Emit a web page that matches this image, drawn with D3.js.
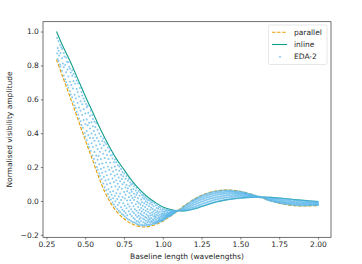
<!DOCTYPE html>
<html lang="en">
<head>
<meta charset="utf-8">
<title>Normalised visibility amplitude</title>
<script src="https://cdn.jsdelivr.net/npm/d3@7"></script>
<style>
body { margin: 0; background: #fff; }
text { font-family: "DejaVu Sans", sans-serif; fill: #262626; }
</style>
</head>
<body>
<div id="chart"></div>
<script>

// baseline lengths (wavelengths) of the two model curves
var curveX = [0.315, 0.35, 0.40, 0.45, 0.50, 0.55, 0.60, 0.65, 0.70, 0.75, 0.80, 0.85, 0.90, 0.95,
  1.00, 1.05, 1.10, 1.15, 1.20, 1.25, 1.30, 1.35, 1.40, 1.45, 1.50, 1.55, 1.60, 1.65, 1.70, 1.75,
  1.80, 1.85, 1.90, 1.95, 2.00];
var parallelY = [0.835, 0.745, 0.62, 0.49, 0.36, 0.235, 0.11, 0.01, -0.06, -0.105, -0.135, -0.15, -0.153, -0.14,
  -0.12, -0.09, -0.055, -0.02, 0.01, 0.033, 0.05, 0.06, 0.065, 0.063, 0.057, 0.045, 0.03, 0.015, 0.0, -0.013,
  -0.022, -0.028, -0.03, -0.029, -0.027];
var inlineY = [1.0, 0.925, 0.83, 0.725, 0.62, 0.52, 0.42, 0.33, 0.25, 0.185, 0.12, 0.068, 0.025, -0.008,
  -0.035, -0.05, -0.058, -0.057, -0.048, -0.033, -0.018, -0.005, 0.005, 0.012, 0.017, 0.021, 0.023, 0.023, 0.021, 0.017,
  0.013, 0.008, 0.004, 0.0, -0.004];

// EDA-2 samples, grouped by baseline: [x, [amplitudes]]
var edaCols = [
[0.319,[0.962,0.871]],[0.323,[0.903,0.838]],[0.328,[0.944,0.826,0.887]],[0.332,[0.858]],[0.337,[0.921,0.806]],
[0.341,[0.873,0.794]],[0.346,[0.907]],[0.351,[0.768,0.842,0.897]],[0.356,[0.812]],[0.362,[0.741,0.874,0.789]],
[0.366,[0.852]],[0.371,[0.718,0.803]],[0.377,[0.846,0.759,0.701]],[0.382,[0.822]],[0.386,[0.684,0.776]],
[0.391,[0.735,0.819,0.668]],[0.396,[0.792]],[0.402,[0.647,0.703,0.781]],[0.407,[0.758,0.629]],[0.411,[0.684]],
[0.416,[0.612,0.739,0.771]],[0.421,[0.663]],[0.425,[0.586,0.708,0.749]],[0.431,[0.627,0.563]],[0.436,[0.692,0.731]],
[0.44,[0.549,0.604]],[0.445,[0.661,0.527,0.711]],[0.451,[0.578,0.643]],[0.455,[0.509,0.694]],[0.46,[0.552,0.617,0.486]],
[0.466,[0.667]],[0.47,[0.471,0.589,0.532]],[0.476,[0.643,0.449]],[0.481,[0.507,0.571,0.623]],[0.485,[0.432]],
[0.49,[0.478,0.604,0.541]],[0.496,[0.401,0.589]],[0.501,[0.452,0.516,0.381]],[0.505,[0.572]],
[0.51,[0.413,0.358,0.481,0.553]],[0.516,[0.447,0.562]],[0.52,[0.334,0.389,0.521]],[0.525,[0.462,0.318]],
[0.531,[0.371,0.503,0.428]],[0.535,[0.297,0.534]],[0.541,[0.341,0.465,0.398]],[0.546,[0.269,0.507]],
[0.55,[0.318,0.441,0.372,0.484]],[0.556,[0.247,0.413]],[0.56,[0.289,0.356,0.468]],[0.565,[0.226,0.437,0.391]],
[0.571,[0.268,0.328,0.459]],[0.575,[0.201,0.372]],[0.58,[0.243,0.307,0.421,0.184]],[0.586,[0.352,0.266]],
[0.59,[0.162,0.217,0.398]],[0.595,[0.291,0.334,0.147]],[0.601,[0.189,0.247,0.381]],[0.605,[0.128,0.312]],
[0.61,[0.221,0.354,0.166]],[0.616,[0.103,0.279,0.369]],[0.62,[0.142,0.198,0.327]],[0.625,[0.081,0.253,0.346]],
[0.631,[0.174,0.121,0.298]],[0.635,[0.063,0.227,0.336]],[0.64,[0.152,0.098,0.271]],[0.646,[0.041,0.204,0.316]],
[0.65,[0.127,0.069,0.248]],[0.655,[0.182,0.022,0.291]],[0.661,[0.104,0.053,0.226,0.301]],[0.665,[0.008,0.157,0.269]],
[0.67,[0.082,0.196,0.037]],[0.676,[-0.009,0.133,0.251,0.274]],[0.68,[0.058,0.174,0.016]],[0.685,[-0.021,0.112,0.228]],
[0.691,[0.031,0.149,0.203,0.245]],[0.695,[-0.034,0.087,-0.002]],[0.70,[0.122,0.184,0.046,0.228]],
[0.706,[-0.047,0.012,0.158]],[0.71,[0.067,0.101,0.211,-0.024]],[0.716,[-0.058,0.139,0.027]],
[0.72,[0.083,0.179,-0.011,0.203]],[0.725,[-0.065,0.044,0.117]],[0.731,[0.154,-0.037,0.006,0.188]],
[0.736,[0.072,-0.076,0.129]],[0.74,[-0.052,0.024,0.171,0.098]],[0.745,[-0.083,-0.014,0.146]],
[0.751,[0.053,-0.061,0.109,0.162]],[0.755,[-0.092,-0.028,0.014]],[0.76,[0.079,0.131,-0.071,0.036]],
[0.766,[-0.043,-0.101,0.094,0.148]],[0.77,[0.002,0.057,-0.084]],[0.775,[-0.019,0.119,-0.108,0.073]],
[0.781,[-0.061,0.022,0.131]],[0.785,[-0.112,-0.033,0.088,0.047]],[0.79,[-0.078,0.004,0.109]],
[0.796,[-0.118,-0.049,0.066,0.031,0.097]],[0.80,[-0.089,-0.012,0.054]],[0.805,[-0.124,-0.063,0.018,0.102]],
[0.811,[-0.031,0.071,-0.101]],[0.815,[-0.127,0.006,-0.072,0.043,0.089]],[0.82,[-0.049,-0.108,0.024]],
[0.826,[-0.132,-0.019,0.061,-0.083]],[0.83,[-0.058,0.037,-0.118,0.076]],[0.835,[-0.094,-0.003,-0.137,0.048]],
[0.841,[-0.069,0.016,-0.121,-0.036]],[0.845,[-0.141,-0.087,0.059,-0.012]],[0.85,[-0.106,0.031,-0.054,-0.128]],
[0.856,[-0.074,-0.143,-0.021,0.049,-0.097]],[0.86,[-0.118,0.008,-0.041]],
[0.865,[-0.139,-0.082,0.037,-0.062,-0.007]],[0.871,[-0.104,-0.029,0.021,-0.146]],
[0.875,[-0.125,-0.051,-0.088,0.033]],[0.88,[-0.142,-0.013,-0.071,-0.109,0.011]],
[0.886,[-0.094,-0.036,-0.131,0.024]],[0.89,[-0.146,-0.058,-0.117,-0.002]],
[0.895,[-0.079,-0.137,-0.022,0.013,-0.101]],[0.901,[-0.126,-0.047,-0.144,-0.009]],
[0.905,[-0.088,-0.112,0.006,-0.064]],[0.91,[-0.139,-0.031,-0.097,-0.121]],
[0.916,[-0.073,-0.143,-0.016,-0.108,0.002]],[0.92,[-0.052,-0.129,-0.086]],
[0.925,[-0.139,-0.038,-0.101,-0.007,-0.118]],[0.931,[-0.069,-0.124,-0.083,-0.021]],
[0.935,[-0.136,-0.048,-0.109,-0.004]],[0.94,[-0.092,-0.128,-0.062,-0.031,-0.115]],
[0.946,[-0.077,-0.134,-0.014,-0.103]],[0.95,[-0.121,-0.053,-0.089,-0.132]],
[0.955,[-0.068,-0.109,-0.027,-0.127,-0.094]],[0.961,[-0.042,-0.118,-0.081,-0.131]],
[0.965,[-0.102,-0.059,-0.124,-0.022]],[0.97,[-0.087,-0.115,-0.045,-0.126,-0.071]],
[0.976,[-0.109,-0.034,-0.097,-0.121]],[0.98,[-0.063,-0.118,-0.082,-0.104]],
[0.985,[-0.113,-0.051,-0.094,-0.121,-0.038]],[0.991,[-0.072,-0.108,-0.117,-0.088]],
[0.995,[-0.099,-0.059,-0.114,-0.081]],[1.00,[-0.106,-0.074,-0.116,-0.047,-0.091]],
[1.006,[-0.098,-0.062,-0.111,-0.083]],[1.01,[-0.104,-0.072,-0.089,-0.049,-0.108]],
[1.015,[-0.096,-0.063,-0.103,-0.079]],[1.02,[-0.101,-0.084,-0.056,-0.092]],
[1.026,[-0.089,-0.098,-0.071,-0.052,-0.081]],[1.03,[-0.094,-0.063,-0.086,-0.075]],
[1.035,[-0.092,-0.079,-0.057,-0.085]],[1.04,[-0.088,-0.069,-0.091,-0.076,-0.053]],
[1.046,[-0.086,-0.071,-0.078,-0.058]],[1.05,[-0.083,-0.064,-0.087,-0.073]],
[1.055,[-0.079,-0.068,-0.083,-0.059]],[1.06,[-0.076,-0.066,-0.08,-0.058]],[1.066,[-0.072,-0.062,-0.076]],
[1.07,[-0.069,-0.061,-0.073,-0.057]],[1.075,[-0.067,-0.059,-0.07]],[1.08,[-0.064,-0.058,-0.066]],
[1.086,[-0.062,-0.059]],[1.09,[-0.06,-0.058]],[1.096,[-0.058]],[1.10,[-0.058,-0.056]],
[1.11,[-0.057,-0.052]],[1.12,[-0.057,-0.05,-0.044]],[1.13,[-0.057,-0.05,-0.043,-0.037]],
[1.14,[-0.055,-0.048,-0.04,-0.031]],[1.15,[-0.055,-0.047,-0.038,-0.029,-0.023]],
[1.16,[-0.054,-0.045,-0.035,-0.025,-0.016]],[1.17,[-0.052,-0.043,-0.033,-0.022,-0.012]],
[1.18,[-0.05,-0.04,-0.03,-0.018,-0.006]],[1.19,[-0.048,-0.037,-0.025,-0.013,-0.002,0.003]],
[1.20,[-0.046,-0.035,-0.022,-0.01,0.0,0.007]],[1.21,[-0.043,-0.032,-0.02,-0.006,0.005,0.012]],
[1.22,[-0.04,-0.028,-0.015,-0.003,0.009,0.017]],[1.23,[-0.037,-0.025,-0.012,0.001,0.013,0.022]],
[1.24,[-0.034,-0.022,-0.008,0.005,0.017,0.026]],[1.25,[-0.031,-0.019,-0.005,0.008,0.02,0.03]],
[1.26,[-0.028,-0.015,-0.002,0.012,0.024,0.033]],[1.27,[-0.025,-0.012,0.002,0.015,0.028,0.038]],
[1.28,[-0.022,-0.009,0.005,0.019,0.031,0.041]],[1.29,[-0.019,-0.006,0.008,0.022,0.034,0.044]],
[1.30,[-0.016,-0.003,0.011,0.025,0.037,0.047]],[1.31,[-0.013,0.0,0.014,0.027,0.039,0.049]],
[1.32,[-0.01,0.003,0.016,0.03,0.042,0.051]],[1.33,[-0.008,0.005,0.019,0.032,0.044,0.054]],
[1.34,[-0.005,0.008,0.021,0.034,0.046,0.055]],[1.35,[-0.003,0.01,0.023,0.036,0.048,0.057]],
[1.36,[-0.001,0.012,0.025,0.038,0.049,0.058]],[1.37,[0.001,0.014,0.027,0.039,0.05,0.059]],
[1.38,[0.003,0.016,0.028,0.04,0.051,0.06]],[1.39,[0.004,0.017,0.03,0.042,0.052,0.061]],
[1.40,[0.006,0.019,0.031,0.043,0.053,0.062]],[1.41,[0.008,0.02,0.032,0.044,0.054,0.062]],
[1.42,[0.009,0.021,0.033,0.044,0.054,0.062]],[1.43,[0.01,0.022,0.034,0.045,0.055,0.062]],
[1.44,[0.012,0.023,0.034,0.045,0.054,0.061]],[1.45,[0.013,0.024,0.035,0.045,0.054,0.06]],
[1.46,[0.014,0.025,0.035,0.045,0.053,0.059]],[1.47,[0.015,0.025,0.035,0.044,0.052,0.058]],
[1.48,[0.016,0.026,0.035,0.044,0.051,0.057]],[1.49,[0.016,0.026,0.035,0.043,0.05,0.056]],
[1.50,[0.017,0.026,0.035,0.043,0.05,0.055]],[1.51,[0.018,0.027,0.035,0.042,0.048,0.053]],
[1.52,[0.019,0.027,0.034,0.041,0.047,0.051]],[1.53,[0.02,0.027,0.034,0.04,0.045,0.049]],
[1.54,[0.02,0.027,0.033,0.039,0.044,0.047]],[1.55,[0.021,0.027,0.033,0.038,0.043]],
[1.56,[0.022,0.027,0.032,0.037,0.041]],[1.57,[0.022,0.027,0.031,0.035,0.039]],
[1.58,[0.022,0.026,0.03,0.034,0.036]],[1.59,[0.023,0.026,0.029,0.032]],[1.60,[0.023,0.026,0.028,0.03]],
[1.61,[0.023,0.025,0.027]],[1.62,[0.022,0.024,0.026]],[1.63,[0.021,0.023]],[1.64,[0.022,0.02]],
[1.65,[0.02,0.017]],[1.66,[0.02,0.016,0.013]],[1.67,[0.02,0.015,0.01,0.007]],[1.68,[0.02,0.014,0.008,0.004]],
[1.69,[0.019,0.012,0.006,0.002]],[1.70,[0.019,0.013,0.007,0.001,-0.001]],[1.71,[0.018,0.012,0.005,-0.001]],
[1.72,[0.017,0.01,0.003,-0.003,-0.004]],[1.73,[0.017,0.009,0.002,-0.005,-0.007]],
[1.74,[0.016,0.008,0.0,-0.006,-0.009]],[1.75,[0.015,0.007,-0.001,-0.007,-0.011]],
[1.76,[0.014,0.006,-0.002,-0.009,-0.013]],[1.77,[0.013,0.005,-0.003,-0.01,-0.015]],
[1.78,[0.013,0.004,-0.004,-0.011,-0.017]],[1.79,[0.012,0.003,-0.005,-0.012,-0.018]],
[1.80,[0.011,0.002,-0.006,-0.013,-0.02]],[1.81,[0.01,0.001,-0.007,-0.014,-0.021]],
[1.82,[0.009,0.0,-0.008,-0.015,-0.022]],[1.83,[0.008,-0.001,-0.009,-0.016,-0.023]],
[1.84,[0.007,-0.002,-0.01,-0.017,-0.024]],[1.85,[0.006,-0.003,-0.011,-0.018,-0.025]],
[1.86,[0.005,-0.004,-0.012,-0.019,-0.026]],[1.87,[0.004,-0.004,-0.012,-0.019,-0.026]],
[1.88,[0.004,-0.005,-0.013,-0.02,-0.027]],[1.89,[0.003,-0.005,-0.013,-0.02,-0.027]],
[1.90,[0.002,-0.006,-0.014,-0.021,-0.027]],[1.91,[0.001,-0.007,-0.014,-0.021,-0.027]],
[1.92,[0.001,-0.007,-0.014,-0.021,-0.027]],[1.93,[0.0,-0.008,-0.015,-0.021,-0.027]],
[1.94,[-0.001,-0.008,-0.015,-0.021,-0.026]],[1.95,[-0.002,-0.009,-0.015,-0.021,-0.026]],
[1.96,[-0.002,-0.009,-0.015,-0.021,-0.026]],[1.97,[-0.003,-0.009,-0.015,-0.021,-0.025]],
[1.98,[-0.003,-0.01,-0.016,-0.021,-0.025]],[1.99,[-0.004,-0.01,-0.016,-0.021,-0.025]],
[2.00,[-0.005,-0.011,-0.016,-0.021,-0.025]]
];

var xTicks = [0.25, 0.50, 0.75, 1.00, 1.25, 1.50, 1.75, 2.00];
var yTicks = [-0.2, 0.0, 0.2, 0.4, 0.6, 0.8, 1.0];
var seriesNames = ["parallel", "inline", "EDA-2"];
var colors = {parallel: "#E69F00", inline: "#129e8a", eda: "#56B4E9"};

var W = 362, H = 264;
var margin = {top: 21.7, right: 31, bottom: 26.7, left: 43};
var fs = 7.5;

var svg = d3.select("#chart").append("svg")
  .attr("width", W).attr("height", H);

var x = d3.scaleLinear().domain([0.228, 2.084]).range([margin.left, W - margin.right]);
var y = d3.scaleLinear().domain([-0.2145, 1.058]).range([H - margin.bottom, margin.top]);

var fmtX = d3.format(".2f");
var fmtY = function(d) { return d3.format(".1f")(d).replace("-", "\u2212"); };

function styleAxis(g) {
  g.select(".domain").remove();
  g.selectAll("line").attr("stroke", "#333").attr("stroke-width", 0.6);
  g.selectAll("text").attr("font-size", fs).attr("fill", "#262626").attr("font-family", "DejaVu Sans");
}

// axes
svg.append("g")
  .attr("transform", "translate(0," + (H - margin.bottom) + ")")
  .call(d3.axisBottom(x).tickValues(xTicks).tickFormat(fmtX).tickSize(2.2).tickPadding(2))
  .call(styleAxis);

svg.append("g")
  .attr("transform", "translate(" + margin.left + ",0)")
  .call(d3.axisLeft(y).tickValues(yTicks).tickFormat(fmtY).tickSize(2.2).tickPadding(2))
  .call(styleAxis);

// curves
var lineGen = d3.line()
  .x(function(d) { return x(d[0]); })
  .y(function(d) { return y(d[1]); })
  .curve(d3.curveCatmullRom);

svg.append("path")
  .datum(d3.zip(curveX, parallelY))
  .attr("d", lineGen)
  .attr("fill", "none")
  .attr("stroke", colors.parallel)
  .attr("stroke-width", 1.1)
  .attr("stroke-dasharray", "3.5,1.6");

svg.append("path")
  .datum(d3.zip(curveX, inlineY))
  .attr("d", lineGen)
  .attr("fill", "none")
  .attr("stroke", colors.inline)
  .attr("stroke-width", 1.1);

// scatter
var edaPts = [];
edaCols.forEach(function(c) { c[1].forEach(function(v) { edaPts.push([c[0], v]); }); });

svg.append("g").selectAll("circle")
  .data(edaPts)
  .enter().append("circle")
  .attr("cx", function(d) { return x(d[0]); })
  .attr("cy", function(d) { return y(d[1]); })
  .attr("r", 1.0)
  .attr("fill", colors.eda)
  .attr("opacity", 0.72);

// frame
svg.append("rect")
  .attr("x", margin.left).attr("y", margin.top)
  .attr("width", W - margin.right - margin.left)
  .attr("height", H - margin.bottom - margin.top)
  .attr("fill", "none").attr("stroke", "#333").attr("stroke-width", 0.7);

// axis labels
svg.append("text")
  .attr("x", (margin.left + W - margin.right) / 2)
  .attr("y", 259)
  .attr("text-anchor", "middle")
  .attr("font-size", fs)
  .text("Baseline length (wavelengths)");

svg.append("text")
  .attr("transform", "translate(12," + ((margin.top + H - margin.bottom) / 2) + ") rotate(-90)")
  .attr("text-anchor", "middle")
  .attr("font-size", fs)
  .text("Normalised visibility amplitude");

// legend
var lg = svg.append("g").attr("transform", "translate(268.5,25)");
lg.append("rect")
  .attr("width", 58.5).attr("height", 39.5).attr("rx", 1.5)
  .attr("fill", "#fff").attr("fill-opacity", 0.8)
  .attr("stroke", "#dcdcdc").attr("stroke-width", 0.7);

seriesNames.forEach(function(name, i) {
  var cy = 7.3 + i * 12.2;
  if (i === 0) {
    lg.append("line").attr("x1", 3.5).attr("x2", 18.5).attr("y1", cy).attr("y2", cy)
      .attr("stroke", colors.parallel).attr("stroke-width", 1.1).attr("stroke-dasharray", "3.5,1.6");
  } else if (i === 1) {
    lg.append("line").attr("x1", 3.5).attr("x2", 18.5).attr("y1", cy).attr("y2", cy)
      .attr("stroke", colors.inline).attr("stroke-width", 1.1);
  } else {
    lg.append("circle").attr("cx", 11.5).attr("cy", cy).attr("r", 1.0)
      .attr("fill", colors.eda).attr("opacity", 0.72);
  }
  lg.append("text").attr("x", 25.5).attr("y", cy + 2.6).attr("font-size", fs).text(name);
});

</script>
</body>
</html>
